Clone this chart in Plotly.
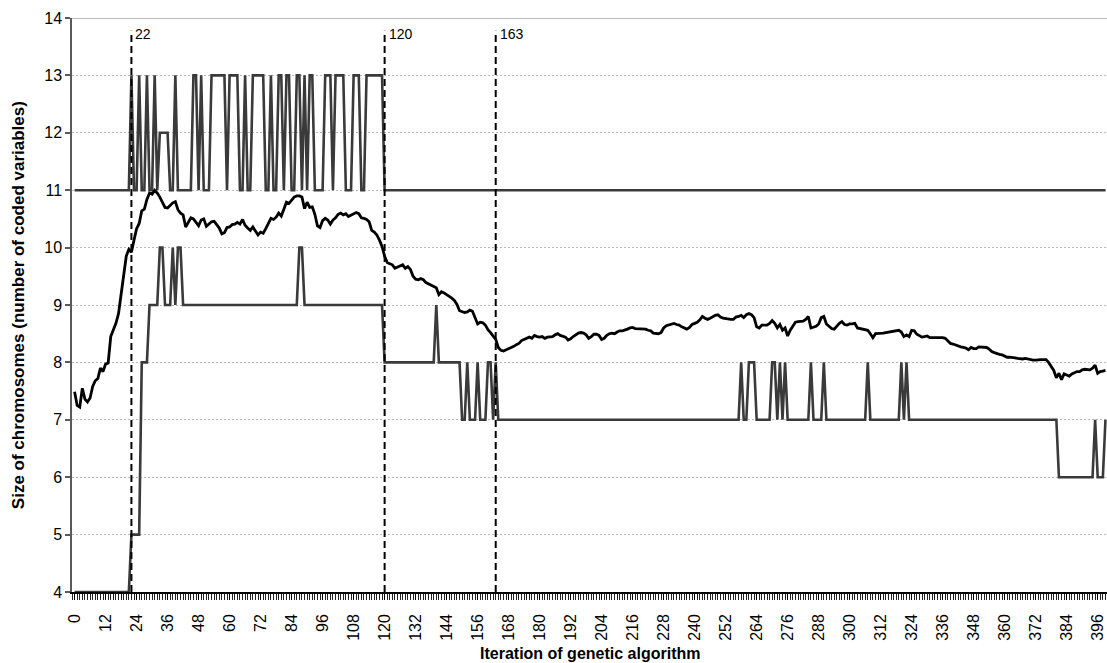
import plotly.graph_objects as go

# Iterations of the genetic algorithm (category axis)
iterations = list(range(400))

# Largest chromosome size in the population at each iteration
max_size = [
    11, 11, 11, 11, 11, 11, 11, 11, 11, 11, 11, 11, 11, 11, 11, 11, 11, 11, 11, 11,
    11, 11, 13, 11, 11, 13, 11, 11, 13, 11, 11, 13, 11, 12, 12, 12, 12, 11, 11, 13,
    11, 11, 11, 11, 11, 11, 13, 13, 11, 13, 11, 11, 11, 13, 13, 13, 13, 13, 13, 11,
    13, 13, 13, 13, 11, 11, 13, 11, 11, 13, 13, 13, 13, 13, 11, 11, 13, 11, 11, 13,
    13, 11, 13, 13, 11, 11, 13, 13, 11, 13, 11, 13, 13, 11, 11, 11, 11, 13, 13, 13,
    11, 13, 13, 13, 13, 11, 11, 11, 13, 13, 13, 11, 11, 13, 13, 13, 13, 13, 13, 13,
    11, 11, 11, 11, 11, 11, 11, 11, 11, 11, 11, 11, 11, 11, 11, 11, 11, 11, 11, 11,
    11, 11, 11, 11, 11, 11, 11, 11, 11, 11, 11, 11, 11, 11, 11, 11, 11, 11, 11, 11,
    11, 11, 11, 11, 11, 11, 11, 11, 11, 11, 11, 11, 11, 11, 11, 11, 11, 11, 11, 11,
    11, 11, 11, 11, 11, 11, 11, 11, 11, 11, 11, 11, 11, 11, 11, 11, 11, 11, 11, 11,
    11, 11, 11, 11, 11, 11, 11, 11, 11, 11, 11, 11, 11, 11, 11, 11, 11, 11, 11, 11,
    11, 11, 11, 11, 11, 11, 11, 11, 11, 11, 11, 11, 11, 11, 11, 11, 11, 11, 11, 11,
    11, 11, 11, 11, 11, 11, 11, 11, 11, 11, 11, 11, 11, 11, 11, 11, 11, 11, 11, 11,
    11, 11, 11, 11, 11, 11, 11, 11, 11, 11, 11, 11, 11, 11, 11, 11, 11, 11, 11, 11,
    11, 11, 11, 11, 11, 11, 11, 11, 11, 11, 11, 11, 11, 11, 11, 11, 11, 11, 11, 11,
    11, 11, 11, 11, 11, 11, 11, 11, 11, 11, 11, 11, 11, 11, 11, 11, 11, 11, 11, 11,
    11, 11, 11, 11, 11, 11, 11, 11, 11, 11, 11, 11, 11, 11, 11, 11, 11, 11, 11, 11,
    11, 11, 11, 11, 11, 11, 11, 11, 11, 11, 11, 11, 11, 11, 11, 11, 11, 11, 11, 11,
    11, 11, 11, 11, 11, 11, 11, 11, 11, 11, 11, 11, 11, 11, 11, 11, 11, 11, 11, 11,
    11, 11, 11, 11, 11, 11, 11, 11, 11, 11, 11, 11, 11, 11, 11, 11, 11, 11, 11, 11,
]

# Mean chromosome size in the population at each iteration
mean_size = [
    7.49, 7.25, 7.22, 7.55, 7.36, 7.31, 7.38, 7.58, 7.68, 7.72,
    7.90, 7.84, 7.97, 7.99, 8.45, 8.58, 8.68, 8.85, 9.18, 9.55,
    9.85, 9.97, 9.92, 10.13, 10.33, 10.42, 10.64, 10.67, 10.84, 10.95,
    10.93, 11.00, 10.95, 10.88, 10.80, 10.70, 10.69, 10.74, 10.78, 10.80,
    10.66, 10.60, 10.57, 10.36, 10.44, 10.52, 10.50, 10.44, 10.38, 10.48,
    10.50, 10.37, 10.41, 10.45, 10.46, 10.40, 10.34, 10.24, 10.26, 10.35,
    10.36, 10.40, 10.41, 10.44, 10.41, 10.49, 10.39, 10.34, 10.30, 10.36,
    10.29, 10.22, 10.27, 10.25, 10.33, 10.41, 10.51, 10.49, 10.53, 10.60,
    10.55, 10.67, 10.79, 10.77, 10.82, 10.88, 10.90, 10.90, 10.88, 10.68,
    10.79, 10.70, 10.71, 10.58, 10.38, 10.35, 10.47, 10.51, 10.48, 10.41,
    10.48, 10.52, 10.58, 10.60, 10.57, 10.59, 10.54, 10.56, 10.58, 10.61,
    10.59, 10.52, 10.51, 10.49, 10.45, 10.30, 10.27, 10.22, 10.13, 10.02,
    9.85, 9.74, 9.72, 9.70, 9.64, 9.66, 9.69, 9.70, 9.64, 9.67,
    9.62, 9.50, 9.45, 9.44, 9.46, 9.44, 9.39, 9.37, 9.35, 9.32,
    9.30, 9.18, 9.23, 9.21, 9.18, 9.16, 9.12, 9.08, 9.01, 8.90,
    8.88, 8.87, 8.88, 8.91, 8.89, 8.76, 8.67, 8.70, 8.69, 8.65,
    8.57, 8.52, 8.46, 8.40, 8.26, 8.21, 8.20, 8.22, 8.24, 8.25,
    8.28, 8.31, 8.33, 8.38, 8.40, 8.42, 8.44, 8.42, 8.47, 8.45,
    8.44, 8.45, 8.42, 8.44, 8.44, 8.45, 8.48, 8.50, 8.47, 8.45,
    8.44, 8.39, 8.41, 8.45, 8.48, 8.51, 8.52, 8.51, 8.48, 8.42,
    8.45, 8.49, 8.49, 8.47, 8.40, 8.42, 8.47, 8.50, 8.51, 8.50,
    8.53, 8.55, 8.55, 8.56, 8.58, 8.60, 8.61, 8.59, 8.59, 8.58,
    8.58, 8.58, 8.56, 8.55, 8.51, 8.50, 8.50, 8.52, 8.60, 8.64,
    8.65, 8.67, 8.68, 8.66, 8.65, 8.62, 8.60, 8.58, 8.61, 8.66,
    8.68, 8.70, 8.74, 8.80, 8.77, 8.75, 8.77, 8.80, 8.82, 8.83,
    8.79, 8.77, 8.76, 8.75, 8.75, 8.75, 8.79, 8.80, 8.82, 8.78,
    8.83, 8.85, 8.83, 8.78, 8.62, 8.60, 8.65, 8.65, 8.65, 8.68,
    8.73, 8.68, 8.60, 8.66, 8.56, 8.60, 8.46, 8.56, 8.62, 8.70,
    8.71, 8.71, 8.72, 8.75, 8.80, 8.60, 8.61, 8.63, 8.67, 8.78,
    8.80, 8.67, 8.63, 8.59, 8.58, 8.63, 8.68, 8.71, 8.66, 8.65,
    8.67, 8.67, 8.68, 8.60, 8.59, 8.58, 8.58, 8.56, 8.50, 8.43,
    8.50, 8.50, 8.50, 8.51, 8.52, 8.53, 8.54, 8.55, 8.56, 8.56,
    8.53, 8.45, 8.48, 8.45, 8.56, 8.55, 8.49, 8.46, 8.44, 8.45,
    8.46, 8.43, 8.43, 8.44, 8.44, 8.44, 8.43, 8.42, 8.38, 8.33,
    8.32, 8.30, 8.28, 8.27, 8.26, 8.25, 8.22, 8.26, 8.24, 8.24,
    8.27, 8.27, 8.27, 8.26, 8.23, 8.19, 8.17, 8.15, 8.14, 8.13,
    8.11, 8.09, 8.09, 8.09, 8.08, 8.07, 8.06, 8.06, 8.07, 8.06,
    8.04, 8.04, 8.04, 8.05, 8.05, 8.05, 8.05, 8.00, 7.92, 7.86,
    7.73, 7.81, 7.70, 7.80, 7.78, 7.76, 7.80, 7.82, 7.84, 7.84,
    7.87, 7.88, 7.87, 7.87, 7.90, 7.95, 7.81, 7.84, 7.85, 7.86,
]

# Smallest chromosome size in the population at each iteration
min_size = [
    4, 4, 4, 4, 4, 4, 4, 4, 4, 4, 4, 4, 4, 4, 4, 4, 4, 4, 4, 4,
    4, 4, 5, 5, 5, 5, 8, 8, 8, 9, 9, 9, 9, 10, 10, 9, 9, 9, 10, 9,
    10, 10, 9, 9, 9, 9, 9, 9, 9, 9, 9, 9, 9, 9, 9, 9, 9, 9, 9, 9,
    9, 9, 9, 9, 9, 9, 9, 9, 9, 9, 9, 9, 9, 9, 9, 9, 9, 9, 9, 9,
    9, 9, 9, 9, 9, 9, 9, 10, 10, 9, 9, 9, 9, 9, 9, 9, 9, 9, 9, 9,
    9, 9, 9, 9, 9, 9, 9, 9, 9, 9, 9, 9, 9, 9, 9, 9, 9, 9, 9, 9,
    8, 8, 8, 8, 8, 8, 8, 8, 8, 8, 8, 8, 8, 8, 8, 8, 8, 8, 8, 8,
    9, 8, 8, 8, 8, 8, 8, 8, 8, 8, 7, 7, 8, 7, 7, 7, 8, 7, 7, 7,
    8, 8, 7, 8, 7, 7, 7, 7, 7, 7, 7, 7, 7, 7, 7, 7, 7, 7, 7, 7,
    7, 7, 7, 7, 7, 7, 7, 7, 7, 7, 7, 7, 7, 7, 7, 7, 7, 7, 7, 7,
    7, 7, 7, 7, 7, 7, 7, 7, 7, 7, 7, 7, 7, 7, 7, 7, 7, 7, 7, 7,
    7, 7, 7, 7, 7, 7, 7, 7, 7, 7, 7, 7, 7, 7, 7, 7, 7, 7, 7, 7,
    7, 7, 7, 7, 7, 7, 7, 7, 7, 7, 7, 7, 7, 7, 7, 7, 7, 7, 8, 7,
    7, 8, 8, 8, 7, 7, 7, 7, 7, 7, 8, 8, 7, 8, 7, 8, 7, 7, 7, 7,
    7, 7, 7, 7, 7, 8, 7, 7, 7, 7, 8, 7, 7, 7, 7, 7, 7, 7, 7, 7,
    7, 7, 7, 7, 7, 7, 7, 8, 7, 7, 7, 7, 7, 7, 7, 7, 7, 7, 7, 7,
    8, 7, 8, 7, 7, 7, 7, 7, 7, 7, 7, 7, 7, 7, 7, 7, 7, 7, 7, 7,
    7, 7, 7, 7, 7, 7, 7, 7, 7, 7, 7, 7, 7, 7, 7, 7, 7, 7, 7, 7,
    7, 7, 7, 7, 7, 7, 7, 7, 7, 7, 7, 7, 7, 7, 7, 7, 7, 7, 7, 7,
    7, 6, 6, 6, 6, 6, 6, 6, 6, 6, 6, 6, 6, 6, 6, 7, 6, 6, 6, 7,
]

# Iterations marked with vertical dashed lines
marked_iterations = [22, 120, 163]

FONT = "Arial, 'Liberation Sans', sans-serif"
GRAY_LINE = "#3a3a3a"

fig = go.Figure()

fig.add_trace(go.Scatter(x=iterations, y=max_size, mode="lines",
                         line=dict(color=GRAY_LINE, width=2.6), name="Maximum"))
fig.add_trace(go.Scatter(x=iterations, y=min_size, mode="lines",
                         line=dict(color=GRAY_LINE, width=2.6), name="Minimum"))
fig.add_trace(go.Scatter(x=iterations, y=mean_size, mode="lines",
                         line=dict(color="black", width=2.8), name="Mean"))

# Solid top border of the plot area at y = 14
fig.add_shape(type="line", xref="paper", yref="y", x0=0, x1=1, y0=14, y1=14,
              line=dict(color="#a8a8a8", width=1.5))

for it in marked_iterations:
    fig.add_shape(type="line", xref="x", yref="y", x0=it, x1=it, y0=4, y1=13.78,
                  line=dict(color="black", width=2, dash="7px,4px"))
    fig.add_annotation(x=it, y=13.72, xref="x", yref="y", text=str(it),
                       showarrow=False, xanchor="left", yanchor="middle", xshift=2,
                       font=dict(family=FONT, size=14, color="black"))

# Axis titles
fig.add_annotation(xref="paper", yref="paper", x=-0.052, y=0.5,
                   text="<b>Size of chromosomes (number of coded variables)</b>",
                   textangle=-90, showarrow=False, xanchor="center", yanchor="middle",
                   font=dict(family=FONT, size=17, color="black"))
fig.add_annotation(xref="paper", yref="paper", x=0.5, y=-0.108,
                   text="<b>Iteration of genetic algorithm</b>",
                   showarrow=False, xanchor="center", yanchor="middle",
                   font=dict(family=FONT, size=16, color="black"))

fig.update_layout(
    width=1107, height=663,
    margin=dict(l=72, r=0, t=18, b=71),
    plot_bgcolor="white", paper_bgcolor="white",
    font=dict(family=FONT, color="black"),
    showlegend=False,
)

fig.update_xaxes(
    range=[-1, 399.6],
    tickmode="linear", tick0=0, dtick=12,
    tickangle=-90,
    ticks="outside", ticklen=6, tickwidth=1, tickcolor="black",
    ticklabelstandoff=8,
    showline=True, linecolor="black", linewidth=1.5,
    showgrid=False, zeroline=False,
    tickfont=dict(family=FONT, size=16, color="black"),
    minor=dict(tick0=0, dtick=1, ticks="outside", ticklen=6, tickwidth=1,
               tickcolor="#222222", showgrid=False),
)

fig.update_yaxes(
    range=[4, 14], tickmode="linear", tick0=4, dtick=1,
    ticks="outside", ticklen=5, tickwidth=1.5, tickcolor="#5a5a5a",
    showline=True, linecolor="#5a5a5a", linewidth=1.5,
    showgrid=True, gridcolor="#b8b8b8", gridwidth=1, griddash="2px,2px",
    zeroline=False,
    tickfont=dict(family=FONT, size=16, color="black"),
)

fig.write_html("out.html")
